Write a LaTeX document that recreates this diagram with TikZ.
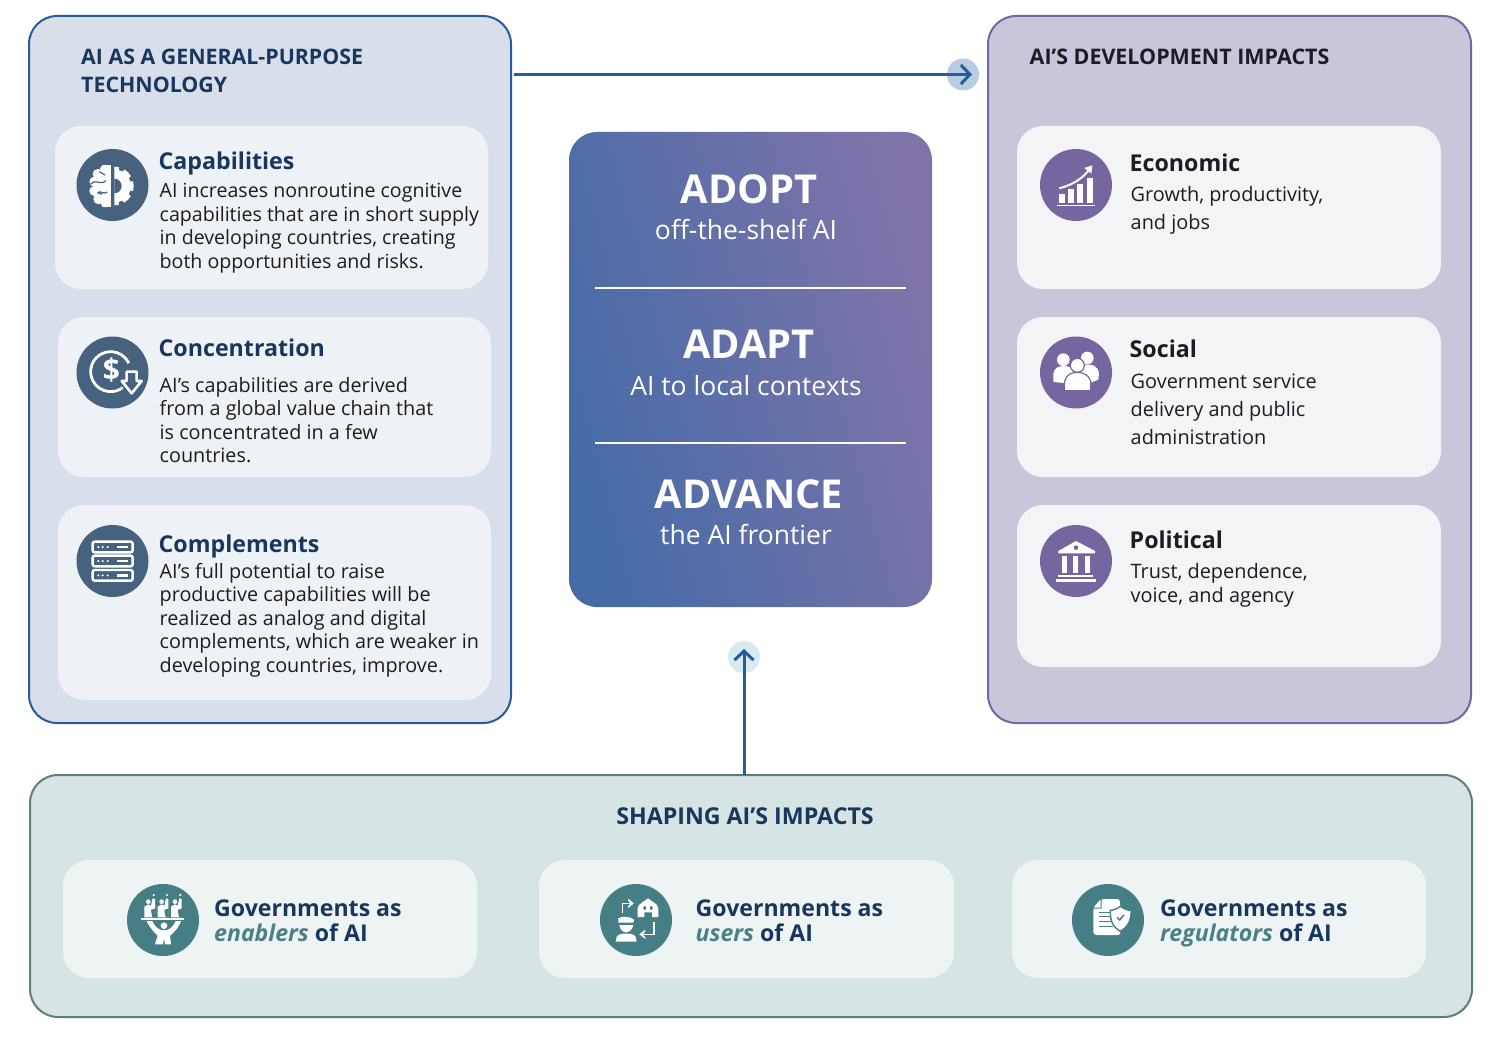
\documentclass[tikz,border=0pt]{standalone}
\usepackage{fontspec}
\setmainfont{Open Sans}
\usetikzlibrary{arrows.meta,calc}
\definecolor{navy}{HTML}{17375E}
\definecolor{ink}{HTML}{1C1C22}
\definecolor{slate}{HTML}{46627F}
\definecolor{plum}{HTML}{76669F}
\definecolor{teal}{HTML}{467E86}
\definecolor{tealtx}{HTML}{4B8086}
\definecolor{arrowblue}{HTML}{255C99}
\definecolor{leftfill}{HTML}{D8DFEB}
\definecolor{rightfill}{HTML}{C9C5DA}
\definecolor{lowfill}{HTML}{D7E4E4}
\definecolor{lowedge}{HTML}{5F7D80}
\definecolor{leftcardc}{HTML}{EEF1F6}
\definecolor{rightcardc}{HTML}{F4F4F7}
\definecolor{lowcardc}{HTML}{EEF4F4}
\definecolor{gradblue}{HTML}{456BA7}
\definecolor{gradplum}{HTML}{8074A9}
\definecolor{halo}{HTML}{B9CDE2}
\definecolor{halob}{HTML}{D6EAF0}
\newcommand\rowt[1]{\hbox{#1}}
\tikzset{
  panelbox/.style={draw,line width=2pt,rounded corners=28pt,inner sep=0pt,outer sep=0pt,anchor=north west},
  cardbox/.style={rounded corners=26pt,inner sep=0pt,outer sep=0pt,anchor=north west},
  leftcard/.style={cardbox,fill=leftcardc},
  rightcard/.style={cardbox,fill=rightcardc},
  lowcard/.style={cardbox,fill=lowcardc},
  disc/.style={circle,minimum size=72pt,inner sep=0pt},
  headtxt/.style={inner sep=0pt,anchor=base west,font=\fontsize{21.35}{28}\selectfont\bfseries},
  ttl/.style={inner sep=0pt,anchor=base west,font=\fontsize{23.2}{28}\selectfont\bfseries},
  body/.style={inner sep=0pt,anchor=base west,text=ink,font=\fontsize{19.6}{23.5}\selectfont},
  bodyl/.style={body,font=\fontsize{19.8}{23.5}\selectfont},
  bodyr/.style={body,font=\fontsize{19.9}{23.6}\selectfont},
  bigw/.style={inner sep=0pt,anchor=base,text=white,font=\fontsize{39.8}{44}\selectfont\bfseries},
  subw/.style={inner sep=0pt,anchor=base,text=white,font=\fontsize{26.5}{30}\selectfont},
  gov/.style={inner sep=0pt,anchor=base west,text=navy,font=\fontsize{23.1}{25}\selectfont\bfseries},
  connector/.style={line width=3pt,arrowblue,-{Straight Barb[length=9pt,width=19pt,line width=3pt]}},
  ic/.style={fill=white,draw=none},
  icl/.style={draw=white,fill=none},
  zoomed/.style={shift={(#1)},scale=1/3},
}
\begin{document}
\begin{tikzpicture}[x=1pt,y=-1pt]
\useasboundingbox (0,0) rectangle (1502,1038);
\fill[white] (0,0) rectangle (1502,1038);
% panels
\node[panelbox,draw=arrowblue,fill=leftfill,minimum width=482pt,minimum height=707pt] (pl) at (29,16) {};
\node[panelbox,draw=plum,fill=rightfill,minimum width=483pt,minimum height=707pt] (pr) at (988,16) {};
\node[panelbox,draw=lowedge,fill=lowfill,minimum width=1442pt,minimum height=242pt] (pb) at (30,775) {};
% centre
\node[cardbox,rounded corners=28pt,left color=gradblue,right color=gradplum,shading angle=105,minimum width=363pt,minimum height=475pt] (mid) at (569,132) {};
\coordinate (d1a) at (595,288); \coordinate (d1b) at (906,288);
\coordinate (d2a) at (595,443); \coordinate (d2b) at (906,443);
\draw[white,line width=2pt] (d1a) -- (d1b);
\draw[white,line width=2pt] (d2a) -- (d2b);
\node[bigw] (t1) at (749,203) {ADOPT};
\node[subw] (t2) at (746,239) {off-the-shelf AI};
\node[bigw] (t3) at (749,358) {ADAPT};
\node[subw] (t4) at (746,395) {AI to local contexts};
\node[bigw] (t5) at (749,508) {ADVANCE};
\node[subw] (t6) at (746,544) {the AI frontier};
% connectors
\node[circle,fill=halo,minimum size=32pt,inner sep=0pt] (h1) at (963,74.5) {};
\node[circle,fill=halob,minimum size=32pt,inner sep=0pt] (h2) at (744,657) {};
\draw[connector,shorten <=3pt] (pl.east |- h1) -- ($(h1)+(9,0)$);
\draw[connector] (pb.north -| h2) -- ($(h2)+(0,-8)$);
% headings
\node[headtxt,text=navy] (hl) at (81,65) {\vtop{\baselineskip=28pt\rowt{AI AS A GENERAL-PURPOSE}\rowt{TECHNOLOGY}}};
\node[headtxt,text=ink,font=\fontsize{21.45}{28}\selectfont\bfseries] (hr) at (1029.5,65) {AI’S DEVELOPMENT IMPACTS};
\node[headtxt,text=navy,anchor=base,font=\fontsize{23.2}{28}\selectfont\bfseries] (hb) at (745,824) {SHAPING AI’S IMPACTS};
% left cards
\node[leftcard,minimum width=433pt,minimum height=163pt] (c1) at (55,126) {};
\node[leftcard,minimum width=433pt,minimum height=160pt] (c2) at (58,317) {};
\node[leftcard,minimum width=433pt,minimum height=195pt] (c3) at (58,505) {};
\node[disc,fill=slate] (i1) at (112.5,185) {};
\node[disc,fill=slate] (i2) at (112.5,372.5) {};
\node[disc,fill=slate] (i3) at (112.5,561) {};
\node[ttl,text=navy] (c1t) at (158.5,169) {Capabilities};
\node[body] (c1b) at (159.5,197.5) {\vtop{\rowt{AI increases nonroutine cognitive}\rowt{capabilities that are in short supply}\rowt{in developing countries, creating}\rowt{both opportunities and risks.}}};
\node[ttl,text=navy] (c2t) at (158.5,356) {Concentration};
\node[bodyl] (c2b) at (159.5,392) {\vtop{\rowt{AI’s capabilities are derived}\rowt{from a global value chain that}\rowt{is concentrated in a few}\rowt{countries.}}};
\node[ttl,text=navy] (c3t) at (158.5,552) {Complements};
\node[bodyl] (c3b) at (159.5,578) {\vtop{\rowt{AI’s full potential to raise}\rowt{productive capabilities will be}\rowt{realized as analog and digital}\rowt{complements, which are weaker in}\rowt{developing countries, improve.}}};
% right cards
\node[rightcard,minimum width=424pt,minimum height=163pt] (r1) at (1017,126) {};
\node[rightcard,minimum width=424pt,minimum height=160pt] (r2) at (1017,317) {};
\node[rightcard,minimum width=424pt,minimum height=162pt] (r3) at (1017,505) {};
\node[disc,fill=plum] (j1) at (1076,185) {};
\node[disc,fill=plum] (j2) at (1076,372.5) {};
\node[disc,fill=plum] (j3) at (1076,561) {};
\node[ttl,text=ink] (r1t) at (1129.5,171.5) {Economic};
\node[bodyr] (r1b) at (1130.5,201) {\vtop{\baselineskip=28pt\rowt{Growth, productivity,}\rowt{and jobs}}};
\node[ttl,text=ink] (r2t) at (1129.5,357) {Social};
\node[bodyr] (r2b) at (1130.5,388) {\vtop{\baselineskip=28pt\rowt{Government service}\rowt{delivery and public}\rowt{administration}}};
\node[ttl,text=ink] (r3t) at (1129.5,548) {Political};
\node[bodyr] (r3b) at (1130.5,578) {\vtop{\baselineskip=24pt\rowt{Trust, dependence,}\rowt{voice, and agency}}};
% bottom cards
\node[lowcard,minimum width=414pt,minimum height=118pt] (b1) at (63,860) {};
\node[lowcard,minimum width=415pt,minimum height=118pt] (b2) at (539,860) {};
\node[lowcard,minimum width=414pt,minimum height=118pt] (b3) at (1012,860) {};
\node[disc,fill=teal] (k1) at (163,920) {};
\node[disc,fill=teal] (k2) at (636,920) {};
\node[disc,fill=teal] (k3) at (1108,920) {};
\node[gov] (b1t) at (214,916) {\vtop{\baselineskip=25pt\rowt{Governments as}\rowt{{\color{tealtx}\itshape enablers} of AI}}};
\node[gov] (b2t) at (695.5,916) {\vtop{\baselineskip=25pt\rowt{Governments as}\rowt{{\color{tealtx}\itshape users} of AI}}};
\node[gov] (b3t) at (1160,916) {\vtop{\baselineskip=25pt\rowt{Governments as}\rowt{{\color{tealtx}\itshape regulators} of AI}}};
% ---- icon: brain and gear
\begin{scope}[zoomed={60,130}]
  \fill[ic] (135,122) circle[radius=17] (113,132) circle[radius=15] (103,155) circle[radius=15] (103,183) circle[radius=15] (116,207) circle[radius=16] (137,216) circle[radius=16] (125,165) circle[radius=24];
  \fill[ic] (125,106) rectangle (152,232);
  \draw[slate,line width=1.2pt] (92,162) .. controls (110,145) and (120,168) .. (138,152);
  \draw[slate,line width=1.2pt] (112,190) .. controls (122,177) and (130,197) .. (142,186);
  \draw[slate,line width=1.2pt] (118,125) -- (135,135);
  \fill[ic] (163,110) -- (163,226) arc[start angle=90,end angle=-90,radius=58] -- cycle;
  \foreach \a in {-67,-22,23,68}{\fill[slate] ($(163,168)+(\a-9:60)$) -- ($(163,168)+(\a-6:50)$) -- ($(163,168)+(\a+6:50)$) -- ($(163,168)+(\a+9:60)$) -- cycle;}
  \fill[slate] (163,146) arc[start angle=-90,end angle=90,radius=22] -- cycle;
\end{scope}
% ---- icon: money and arrow
\begin{scope}[zoomed={60,325}]
  \draw[icl,line width=2.8pt] (152,140) ++(-25:60) arc[start angle=-25,end angle=-307,radius=60];
  \node[inner sep=0pt,text=white,font=\fontsize{30}{30}\selectfont\bfseries] (dollar) at (154,136) {\$};
  \draw[draw=white,fill=slate,line width=2.6pt,line join=round] (200,140) -- (230,140) -- (230,168) -- (245,168) -- (215,205) -- (185,168) -- (200,168) -- cycle;
\end{scope}
% ---- icon: servers
\begin{scope}[zoomed={60,515}]
  \foreach \y in {80,122,165}{
    \draw[icl,line width=2.4pt,rounded corners=2pt] (98,\y) rectangle (218,\y+32);
    \fill[ic] (115,\y+16) circle[radius=3.5] (128,\y+16) circle[radius=3.5] (143,\y+16) circle[radius=3.5];
    \fill[ic] (170,\y+12) rectangle (205,\y+20);
  }
\end{scope}
% ---- icon: chart
\begin{scope}[zoomed={1030,140}]
  \fill[ic] (88,163) rectangle (105,190);
  \fill[ic] (115,147) rectangle (132,190);
  \fill[ic] (142,133) rectangle (160,190);
  \fill[ic] (170,115) rectangle (188,190);
  \draw[white,line width=1pt] (80,196) -- (196,196);
  \draw[white,line width=2pt] (88,145) .. controls (125,135) and (155,118) .. (175,92);
  \fill[ic] (187,76) -- (184,101) -- (163,84) -- cycle;
\end{scope}
% ---- icon: people
\begin{scope}[zoomed={1030,328}]
  \fill[ic] (100,95) circle[radius=19] (172,90) circle[radius=19];
  \fill[ic] (70,162) -- (70,138) .. controls (72,120) and (85,114) .. (100,114) .. controls (125,114) and (130,125) .. (130,140) -- (105,165) -- cycle;
  \fill[ic] (205,155) -- (207,135) .. controls (205,118) and (190,108) .. (172,110) .. controls (150,110) and (140,125) .. (150,140) -- (180,165) -- cycle;
  \draw[fill=white,draw=plum,line width=1.2pt] (142,112) circle[radius=21];
  \draw[fill=white,draw=plum,line width=1.2pt] (103,188) -- (104,160) .. controls (108,140) and (125,133) .. (142,133) .. controls (160,133) and (178,142) .. (182,160) -- (182,188) -- cycle;
\end{scope}
% ---- icon: temple
\begin{scope}[zoomed={1030,515}]
  \fill[ic] (138,78) -- (195,108) -- (195,115) -- (85,115) -- (85,108) -- cycle;
  \fill[plum] (138,98) circle[radius=7];
  \foreach \x in {95,128,165}{\fill[ic] (\x,122) rectangle (\x+16,175);}
  \fill[ic] (85,180) rectangle (190,187);
  \fill[ic] (78,192) rectangle (197,200);
\end{scope}
% ---- icon: enablers
\begin{scope}[zoomed={115,875}]
  \foreach \x in {0,40,80}{
    \fill[ic] (\x+88,127) -- (\x+88,95) -- (\x+100,88) -- (\x+108,92) -- (\x+113,70) -- (\x+120,72) -- (\x+120,127) -- cycle;
    \fill[ic] (\x+116,60) circle[radius=3.5];
    \fill[ic] (\x+100,80) circle[radius=7];
    \fill[teal] (\x+108,105) -- (\x+112,127) -- (\x+121,127) -- (\x+121,100) -- cycle;
  }
  \fill[ic] (78,130) rectangle (208,136);
  \fill[ic] (147,152) circle[radius=10];
  \fill[ic] (95,138) -- (112,138) .. controls (122,160) and (135,166) .. (147,166) .. controls (160,166) and (172,160) .. (182,138) -- (198,138) .. controls (188,165) and (172,175) .. (165,182) -- (168,208) -- (150,208) -- (147,190) -- (144,208) -- (120,208) -- (128,182) .. controls (118,172) and (105,160) .. (95,138) -- cycle;
\end{scope}
% ---- icon: users
\begin{scope}[zoomed={590,875}]
  \draw[white,line width=1.6pt] (97,115) -- (97,85) -- (122,85);
  \fill[ic] (132,85) -- (114,71) -- (114,76) -- (122,85) -- (114,94) -- (114,99) -- cycle;
  \fill[ic] (143,126) -- (143,100) .. controls (145,85) and (160,82) .. (174,70) .. controls (188,82) and (203,85) .. (205,100) -- (205,126) -- (186,126) -- (186,112) -- (163,112) -- (163,126) -- cycle;
  \fill[teal] (160,94) rectangle (168,104) (180,94) rectangle (188,104);
  \fill[ic] (85,130) .. controls (100,122) and (118,124) .. (132,134) -- (130,143) -- (85,143) -- cycle;
  \fill[ic] (88,150) -- (130,150) .. controls (128,165) and (115,172) .. (108,172) .. controls (100,172) and (90,165) .. (88,150) -- cycle;
  \fill[ic] (77,200) -- (80,185) .. controls (85,178) and (95,175) .. (108,176) .. controls (122,175) and (132,178) .. (137,185) -- (140,200) -- cycle;
  \draw[white,line width=1.6pt] (192,140) -- (192,178) -- (160,178);
  \fill[ic] (148,178) -- (166,164) -- (166,169) -- (158,178) -- (166,187) -- (166,192) -- cycle;
\end{scope}
% ---- icon: regulators
\begin{scope}[zoomed={1060,875}]
  \fill[ic,rounded corners=3pt] (100,98) -- (122,72) -- (180,72) -- (182,180) -- (100,180) -- cycle;
  \fill[teal] (122,72) -- (122,98) -- (100,98) -- (100,101) -- (125,101) -- (125,72) -- cycle;
  \foreach \y in {110,124,138,152}{\fill[teal] (116,\y) rectangle (160,\y+3);}
  \draw[fill=white,draw=teal,line width=1.4pt] (181,94) .. controls (192,102) and (203,106) .. (213,106) .. controls (214,135) and (205,155) .. (181,169) .. controls (157,155) and (150,135) .. (151,106) .. controls (160,106) and (170,102) .. (181,94) -- cycle;
  \draw[teal,line width=1.5pt] (171,127) -- (179,135) -- (192,120);
\end{scope}
\end{tikzpicture}
\end{document}
